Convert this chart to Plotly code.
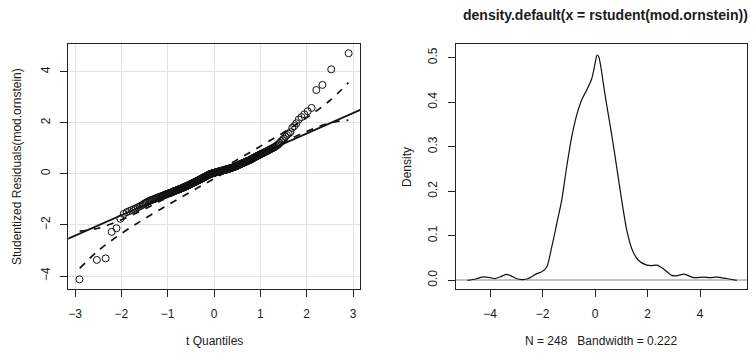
import plotly.graph_objects as go
from statistics import NormalDist

# ---------------- data ----------------
# sorted studentized residuals (n = 248)
residuals = [
    -4.13, -3.37, -3.31, -2.27, -2.13, -1.76, -1.57, -1.50, -1.46, -1.42,
    -1.38, -1.35, -1.31, -1.28, -1.25, -1.21, -1.17, -1.14, -1.11, -1.08,
    -1.06, -1.04, -1.02,
    -1.00, -0.99, -0.97, -0.95, -0.94, -0.92, -0.91, -0.90, -0.88, -0.87,
    -0.86, -0.84, -0.83, -0.82, -0.80, -0.79, -0.78, -0.77, -0.76, -0.75,
    -0.74, -0.73, -0.72, -0.70, -0.69, -0.68, -0.67, -0.66, -0.65, -0.64,
    -0.63, -0.62, -0.61, -0.60, -0.59, -0.58, -0.57,
    -0.56, -0.55, -0.54, -0.53, -0.52, -0.51, -0.50, -0.49, -0.48, -0.47,
    -0.46, -0.45, -0.44, -0.43, -0.42,
    -0.41, -0.40, -0.39, -0.38, -0.37, -0.36, -0.35, -0.34, -0.33, -0.32,
    -0.31, -0.30, -0.29, -0.28, -0.27, -0.26, -0.25, -0.24, -0.23, -0.22,
    -0.21, -0.20, -0.19, -0.18, -0.17,
    -0.16, -0.15, -0.14, -0.13, -0.12, -0.11, -0.10, -0.09, -0.08, -0.07,
    -0.06, -0.05, -0.04, -0.03, -0.02, -0.01, 0.00, 0.00, 0.01, 0.01,
    0.02, 0.02, 0.03, 0.03,
    0.04, 0.05, 0.05, 0.06, 0.06, 0.07, 0.07, 0.08, 0.08, 0.09,
    0.09, 0.10, 0.10, 0.11, 0.11, 0.12, 0.12, 0.13, 0.13, 0.14,
    0.14, 0.15, 0.15, 0.16,
    0.16, 0.17, 0.17, 0.18, 0.18, 0.19, 0.19, 0.20, 0.21, 0.21,
    0.22, 0.23, 0.23, 0.24, 0.25, 0.25, 0.26, 0.27, 0.28, 0.28,
    0.29, 0.30, 0.31, 0.32,
    0.33, 0.34, 0.35, 0.36, 0.37, 0.38, 0.39, 0.40, 0.41, 0.42,
    0.43, 0.44, 0.45, 0.46, 0.47, 0.48, 0.49, 0.50, 0.51, 0.52,
    0.53, 0.54, 0.55, 0.57, 0.58, 0.60, 0.61, 0.63, 0.64, 0.66,
    0.67, 0.69, 0.70, 0.72, 0.73, 0.75, 0.76,
    0.78, 0.79, 0.81, 0.82, 0.84, 0.86, 0.87, 0.89, 0.91, 0.93,
    0.95, 0.97, 0.99, 1.01, 1.03, 1.06, 1.09, 1.12, 1.16, 1.21,
    1.27, 1.32, 1.38, 1.45, 1.52, 1.57, 1.63, 1.80, 1.87, 1.98,
    2.13, 2.22, 2.33, 2.45, 2.58, 3.28, 3.48, 4.09, 4.72,
]
t_df = 233  # residual df for the t reference distribution

# robust reference line
line_intercept = -0.02
line_slope = 0.80

# pointwise confidence envelope (dashed)
env_x = [-2.9, -2.5, -2.0, -1.5, -1.0, -0.5, 0.0, 0.5, 1.0, 1.5, 2.0, 2.5, 2.9]
env_upper = [-2.24, -2.13, -1.80, -1.38, -0.92, -0.45, 0.05, 0.55, 1.08, 1.62, 2.20, 2.87, 3.57]
env_lower = [-3.70, -3.01, -2.34, -1.76, -1.22, -0.70, -0.19, 0.31, 0.78, 1.24, 1.66, 1.99, 2.10]

# kernel density estimate
dens_x = [-4.86, -4.55, -4.25, -4.0, -3.8, -3.6, -3.39, -3.2, -3.0, -2.79, -2.6, -2.47,
          -2.22, -2.03, -1.84, -1.65, -1.46, -1.27, -1.08, -0.89, -0.70, -0.51, -0.32,
          -0.13, -0.05, 0.02, 0.08, 0.14, 0.22, 0.32, 0.44, 0.64, 0.83, 1.02, 1.21, 1.40,
          1.65, 1.97, 2.15, 2.35, 2.60, 2.92, 3.10, 3.39, 3.75, 4.13, 4.40, 4.63, 5.01, 5.40]
dens_y = [0.000, 0.003, 0.0075, 0.006, 0.004, 0.008, 0.0135, 0.010, 0.004, 0.0015, 0.003, 0.006,
          0.015, 0.019, 0.030, 0.075, 0.127, 0.180, 0.255, 0.322, 0.371, 0.405, 0.427,
          0.452, 0.472, 0.493, 0.506, 0.502, 0.480, 0.440, 0.395, 0.325, 0.252, 0.178, 0.112, 0.071,
          0.045, 0.034, 0.033, 0.034, 0.026, 0.011, 0.010, 0.014, 0.006, 0.007, 0.006, 0.007, 0.004, 0.000]

x1_ticks = [-3, -2, -1, 0, 1, 2, 3]
y1_ticks = [-4, -2, 0, 2, 4]
x2_ticks = [-4, -2, 0, 2, 4]
y2_ticks = [0.0, 0.1, 0.2, 0.3, 0.4, 0.5]
y2_labels = ["0.0", "0.1", "0.2", "0.3", "0.4", "0.5"]

title_text = "density.default(x = rstudent(mod.ornstein))"
x1_title = "t Quantiles"
y1_title = "Studentized Residuals(mod.ornstein)"
x2_title = "N = 248\u00a0\u00a0\u00a0Bandwidth = 0.222"
y2_title = "Density"

# ---------------- computed t quantiles ----------------
n = len(residuals)
nd = NormalDist()
tq = []
for i in range(1, n + 1):
    z = nd.inv_cdf((i - 0.5) / n)
    tq.append(z + (z ** 3 + z) / (4 * t_df))

W, H = 755, 354
FONT = "Liberation Sans, Arial, Helvetica, sans-serif"
TXT = "#1a1a1a"

fig = go.Figure()

# reference line
lx = [-3.3, 3.3]
fig.add_trace(go.Scatter(x=lx, y=[line_intercept + line_slope * v for v in lx], mode="lines",
                         line=dict(color="#111111", width=1.7), xaxis="x", yaxis="y",
                         hoverinfo="skip", showlegend=False))
# envelope
for arr in (env_upper, env_lower):
    fig.add_trace(go.Scatter(x=env_x, y=arr, mode="lines", line_shape="spline",
                             line=dict(color="#111111", width=1.7, dash="7px,7px"),
                             xaxis="x", yaxis="y", showlegend=False))
# points
fig.add_trace(go.Scatter(x=tq, y=residuals, mode="markers",
                         marker=dict(symbol="circle-open", size=7, color="#111111",
                                     line=dict(width=1, color="#111111")),
                         xaxis="x", yaxis="y", showlegend=False))
# density
fig.add_trace(go.Scatter(x=dens_x, y=dens_y, mode="lines",
                         line=dict(color="#111111", width=1.2, shape="spline", smoothing=0.7),
                         xaxis="x2", yaxis="y2", showlegend=False))

def px_x(p):
    return p / W

def px_y(p):
    return 1 - p / H

ydom = [px_y(289.3), px_y(44.3)]
common = dict(showline=True, mirror=True, linecolor="#222222", linewidth=1,
              ticks="outside", ticklen=7, tickwidth=1, tickcolor="#222222",
              tickfont=dict(family=FONT, size=12, color=TXT), zeroline=False)

fig.update_layout(
    width=W, height=H, margin=dict(l=0, r=0, t=0, b=0),
    paper_bgcolor="white", plot_bgcolor="white", showlegend=False,
    font=dict(family=FONT, size=12, color=TXT),
    xaxis=dict(domain=[px_x(68.3), px_x(360)], range=[-3.145, 3.15], tickvals=x1_ticks,
               showgrid=True, gridcolor="#e3e3e3", gridwidth=1, ticklabelstandoff=6,
               anchor="y", **common),
    yaxis=dict(domain=ydom, range=[-4.52, 5.07], tickvals=y1_ticks, tickangle=-90,
               showgrid=True, gridcolor="#e3e3e3", gridwidth=1, ticklabelstandoff=6,
               anchor="x", **common),
    xaxis2=dict(domain=[px_x(455.7), px_x(747)], range=[-5.31, 5.79], tickvals=x2_ticks,
                showgrid=False, ticklabelstandoff=6, anchor="y2", **common),
    yaxis2=dict(domain=ydom, range=[-0.0202, 0.530], tickvals=y2_ticks, ticktext=y2_labels,
                tickangle=-90, showgrid=False, ticklabelstandoff=6, anchor="x2",
                **{k: v for k, v in common.items() if k != "zeroline"},
                zeroline=True, zerolinecolor="#c4c4c4", zerolinewidth=1.5),
)

ann = [
    dict(text=x1_title, x=px_x(214), y=px_y(341), textangle=0),
    dict(text=y1_title, x=px_x(17), y=px_y(167), textangle=-90),
    dict(text=y2_title, x=px_x(407), y=px_y(167), textangle=-90),
    dict(text=x2_title, x=px_x(601), y=px_y(341), textangle=0),
    dict(text="<b>" + title_text + "</b>", x=px_x(605), y=px_y(15), textangle=0,
         font=dict(family=FONT, size=14, color=TXT)),
]
for a in ann:
    fig.add_annotation(xref="paper", yref="paper", showarrow=False,
                       xanchor="center", yanchor="middle",
                       font=a.pop("font", dict(family=FONT, size=12, color=TXT)), **a)

fig.write_html("out.html")
